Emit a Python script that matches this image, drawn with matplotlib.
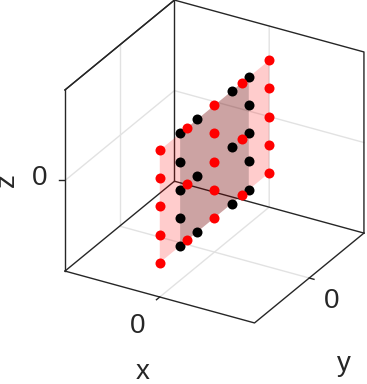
import matplotlib
matplotlib.use("Agg")
import matplotlib.pyplot as plt
from mpl_toolkits.mplot3d.art3d import Poly3DCollection

XLIM = (-1, 1)
YLIM = (-1, 1)
ZLIM = (-1.61, 1.61)

# both point sets sit on the plane x = 0
red_y = [-1, -1, -1, -1, -1, -0.5, -0.5, -0.5, 0, 0, 0, 0, 0, 0.5, 0.5, 0.5, 1, 1, 1, 1, 1]
red_z = [-1, -0.5, 0, 0.5, 1, -1, 0, 1, -1, -0.5, 0, 0.5, 1, -1, 0, 1, -1, -0.5, 0, 0.5, 1]
black_y = [-0.627, -0.627, -0.627, -0.627, -0.627, -0.314, -0.314, -0.314,
           0.314, 0.314, 0.314, 0.627, 0.627, 0.627, 0.627, 0.627]
black_z = [-1, -0.5, 0, 0.5, 1, -1, 0, 1, -1, 0, 1, -1, -0.5, 0, 0.5, 1]

red_plane_y = [-1, 1, 1, -1]
red_plane_z = [-1, -1, 1, 1]
black_plane_y = [-0.627, 0.627, 0.627, -0.627]
black_plane_z = [-1, -1, 1, 1]

EDGE = '#262626'
GRID = '#e2e2e2'

fig = plt.figure(figsize=(3.67, 3.84), dpi=100)
ax = fig.add_axes([0.0796, 0.0969, 0.983, 0.9396], projection='3d', proj_type='ortho',
                  computed_zorder=False)
ax.view_init(elev=28.3, azim=-60)
ax.set_box_aspect((1, 1, 0.94))
ax.set_xlim(XLIM)
ax.set_ylim(YLIM)
ax.set_zlim(ZLIM)
ax.set_axis_off()

x0, x1 = XLIM
y0, y1 = YLIM
z0, z1 = ZLIM

# grid lines through the zero ticks
for xs, ys, zs in [([0, 0, 0], [y0, y1, y1], [z0, z0, z1]),
                   ([x0, x1], [0, 0], [z0, z0]),
                   ([x0, x0], [0, 0], [z0, z1]),
                   ([x0, x0, x1], [y0, y1, y1], [0, 0, 0])]:
    ax.plot(xs, ys, zs, color=GRID, lw=1.0, zorder=1)

# box edges
for xs, ys, zs in [([x0, x1, x1], [y0, y0, y1], [z0, z0, z0]),
                   ([x0, x0, x1], [y0, y1, y1], [z0, z0, z0]),
                   ([x0, x0, x1, x1], [y0, y1, y1, y1], [z1, z1, z1, z0]),
                   ([x0, x0], [y0, y0], [z0, z1]),
                   ([x0, x0], [y1, y1], [z0, z1]),
                   ([x0, x0], [y0, y1], [z1, z1])]:
    ax.plot(xs, ys, zs, color=EDGE, lw=1.0, zorder=2)

# short ticks outside the box
ax.plot([0, 0], [y0, y0 - 0.06], [z0, z0], color=EDGE, lw=1.0, zorder=2)
ax.plot([x1, x1 + 0.05], [0, 0], [z0, z0], color=EDGE, lw=1.0, zorder=2)
ax.plot([x0, x0 - 0.0436], [y0, y0 - 0.0252], [0, 0], color=EDGE, lw=1.0, zorder=2)

ax.add_collection3d(Poly3DCollection([list(zip([0] * 4, red_plane_y, red_plane_z))],
                                     facecolors=(1, 0, 0, 0.2), edgecolors='none', zorder=3))
ax.add_collection3d(Poly3DCollection([list(zip([0] * 4, black_plane_y, black_plane_z))],
                                     facecolors=(0, 0, 0, 0.2), edgecolors='none', zorder=4))

ax.plot([0] * len(black_y), black_y, black_z, 'o', color='k', ms=7.2, mew=0, zorder=5)
ax.plot([0] * len(red_y), red_y, red_z, 'o', color='r', ms=7.2, mew=0, zorder=6)

LABEL = '#262626'
FONT = 'Liberation Sans'
def label(px, py, s, rotation=0):
    fig.text(px / 367, 1 - py / 384, s, fontsize=20, family=FONT, color=LABEL,
             ha='center', va='center', rotation=rotation)

label(40, 178, '0')
label(138, 326, '0')
label(332, 301, '0')
label(7, 180, 'z', rotation=90)
label(143, 372, 'x')
label(344, 364, 'y')

plt.savefig("out.png", dpi=100)
